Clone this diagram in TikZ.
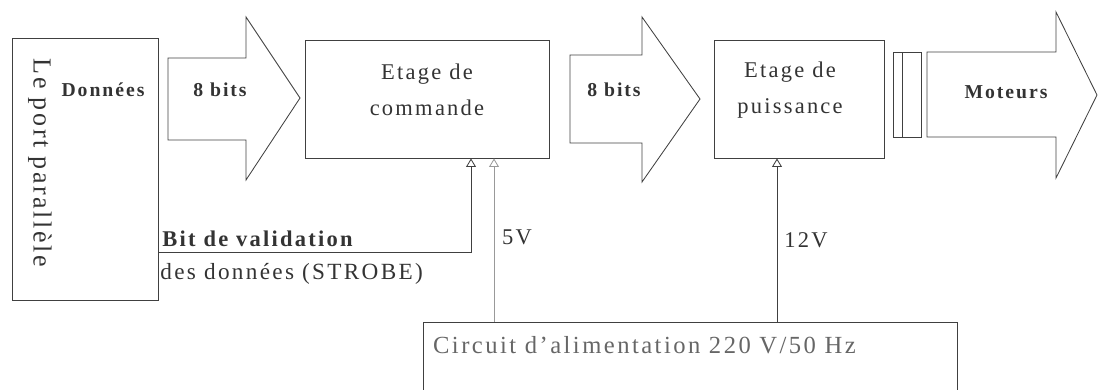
\documentclass[tikz,border=0pt]{standalone}
\usepackage{fontspec}
\setmainfont{Liberation Serif}[LetterSpace=10]
\usetikzlibrary{arrows.meta}

\begin{document}
\begin{tikzpicture}[x=0.025cm,y=-0.025cm,line width=.6pt,
  every node/.style={font=\fontsize{16}{26}\selectfont,text=black!80,align=center},
  blok/.style={draw=black!75,inner sep=0pt},
  fleche/.style={draw=black!75,line join=miter},
  boldlbl/.style={font=\fontsize{14}{16}\selectfont\bfseries},
  pin/.style={draw=black!75,-{Triangle[open,length=6pt,width=7pt]}}]
\useasboundingbox (0,0) rectangle (1098,389);
% blocs
\node[blok,minimum width=3.65cm,minimum height=6.55cm] (port) at (85,169) {};
\node[blok,minimum width=6.1cm,minimum height=2.95cm] (commande) at (427,99) {};
\node[blok,minimum width=4.25cm,minimum height=2.95cm] (puissance) at (799,99) {};
\node[blok,minimum width=13.35cm,minimum height=1.95cm] (alim) at (690,361) {};
% fleches larges
\draw[fleche] (168,58) -- (246,58) -- (246,17) -- (300,98) -- (246,180) -- (246,140) -- (168,140) -- cycle;
\draw[fleche] (570,55) -- (642,55) -- (642,17) -- (700,99) -- (642,182) -- (642,143) -- (570,143) -- cycle;
\draw[fleche] (927,52) -- (1056,52) -- (1056,12) -- (1097,95) -- (1056,178) -- (1056,137) -- (927,137) -- cycle;
\draw[fleche] (893,52) rectangle (921,137);
\draw[fleche] (902,52) -- (902,137);
% textes
\node[rotate=-90,font=\fontsize{18.5}{20}\selectfont] (portlbl) at (40,163) {Le port parallèle};
\node[boldlbl] (donnees) at (103,90) {Données};
\node[boldlbl] (bits1) at (220,90) {8 bits};
\node (cmdlbl) at (427,90) {Etage de\\commande};
\node[boldlbl] (bits2) at (614,90) {8 bits};
\node (pwrlbl) at (790,90) {Etage de\\puissance};
\node[boldlbl] (moteurs) at (1006,92) {Moteurs};
\node[boldlbl,font=\fontsize{16}{16}\selectfont\bfseries,anchor=base west,inner sep=0pt] (strobe1) at (162,246) {Bit de validation};
\node[anchor=base west,inner sep=0pt,font=\fontsize{16.5}{18}\selectfont] (strobe2) at (160,279) {des données (STROBE)};
\node (v5) at (517,237) {5V};
\node (v12) at (806,240) {12V};
\node[anchor=west,text=black!60,font=\fontsize{17.5}{20}\selectfont] (alimlbl) at (428,345) {Circuit d'alimentation 220 V/50 Hz};
% liaisons
\coordinate (s) at (159,252);
\coordinate (cs) at ([xshift=1.1cm]commande.south);
\coordinate (c5) at ([xshift=1.675cm]commande.south);
\coordinate (c12) at ([xshift=-.55cm]puissance.south);
\draw[pin] (s) -| (cs);
\draw[pin,draw=black!40] (alim.north -| c5) -- (c5);
\draw[pin] (alim.north -| c12) -- (c12);
\end{tikzpicture}
\end{document}
